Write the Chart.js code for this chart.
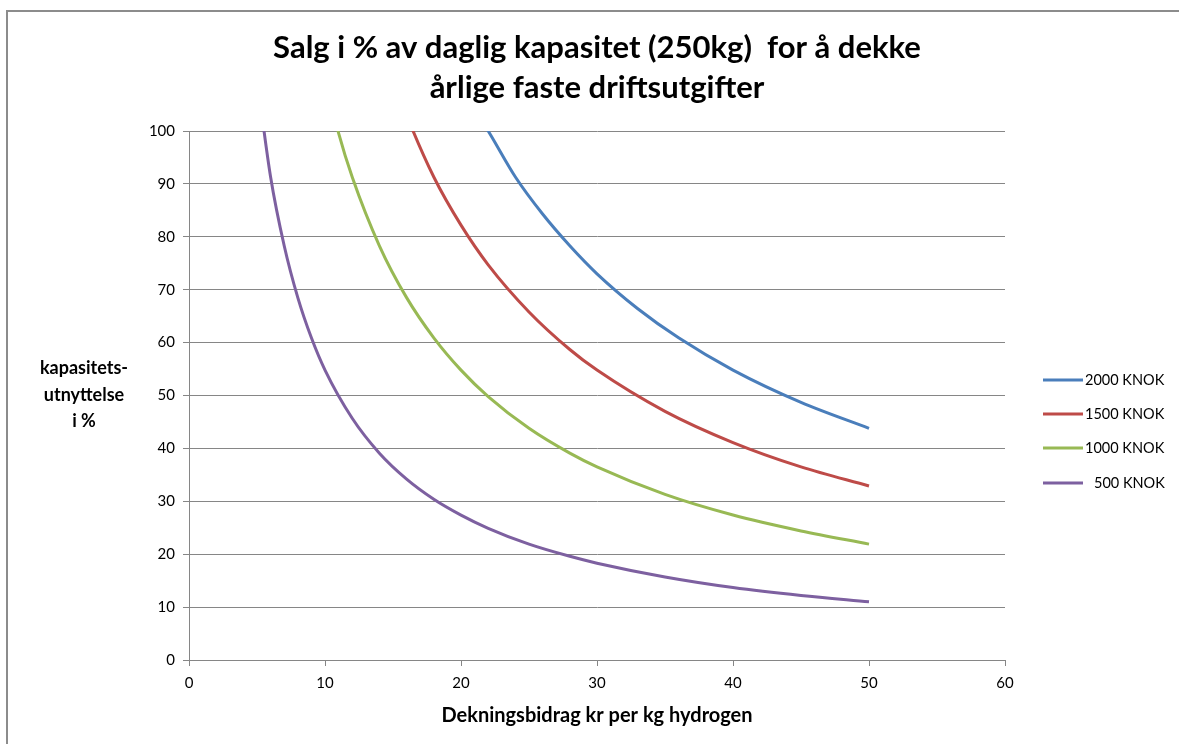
<!DOCTYPE html>
<html><head><meta charset="utf-8">
<script src="https://cdn.jsdelivr.net/npm/chart.js@4"></script>
<style>html,body{margin:0;padding:0;background:#fff}#wrap{width:1179px;height:744px}</style>
</head><body><div id="wrap"><canvas id="c" width="1179" height="744"></canvas></div>
<script>
const seriesNames = ["2000 KNOK", "1500 KNOK", "1000 KNOK", "500 KNOK"];
const x2000 = [21, 22, 24, 26, 28, 30, 33, 36, 40, 45, 50];
const y2000 = [104, 100, 91.3, 84.3, 78.3, 73, 66.4, 60.9, 54.8, 48.7, 43.8];
const x1500 = [15, 16, 18, 20, 22, 25, 28, 30, 35, 40, 45, 50];
const y1500 = [110, 103, 91.3, 82.2, 74.7, 65.8, 58.7, 54.8, 47, 41.1, 36.5, 32.9];
const x1000 = [10, 11, 12, 14, 16, 18, 20, 22, 25, 28, 30, 35, 40, 45, 50];
const y1000 = [110, 99.6, 91.3, 78.3, 68.5, 60.9, 54.8, 49.8, 43.8, 39.1, 36.5, 31.3, 27.4, 24.4, 21.9];
const x500 = [5, 6, 7, 8, 9, 10, 12, 14, 16, 18, 20, 22, 25, 28, 30, 35, 40, 45, 50];
const y500 = [110, 91.3, 78.3, 68.5, 60.9, 54.8, 45.7, 39.1, 34.2, 30.4, 27.4, 24.9, 21.9, 19.6, 18.3, 15.7, 13.7, 12.2, 11];
const colors = ["#4A7EBB", "#BE4B48", "#98B954", "#7D60A0"];
const xTicks = [0, 10, 20, 30, 40, 50, 60];
const yTicks = [0, 10, 20, 30, 40, 50, 60, 70, 80, 90, 100];
const titleLines = ['Salg i % av daglig kapasitet (250kg)  for å dekke', 'årlige faste driftsutgifter'];
const yTitleLines = ['kapasitets-', 'utnyttelse', 'i %'];
const xTitle = 'Dekningsbidrag kr per kg hydrogen';

const xs = [x2000, x1500, x1000, x500];
const ys = [y2000, y1500, y1000, y500];
const datasets = seriesNames.map((n, i) => ({
  label: n,
  data: xs[i].map((x, j) => ({x: x, y: ys[i][j]})),
  borderColor: colors[i], backgroundColor: colors[i],
  borderWidth: 3, pointRadius: 0, showLine: true,
  cubicInterpolationMode: 'monotone'
}));

const FONT = "'Lato', 'Open Sans', sans-serif";
const L = 189, R = 1005, T = 131, B = 660;

const deco = {
  id: 'deco',
  beforeDraw(chart) {
    const ctx = chart.ctx;
    ctx.save();
    ctx.fillStyle = '#fff';
    ctx.fillRect(0, 0, chart.width, chart.height);
    ctx.strokeStyle = '#8c8c8c';
    ctx.lineWidth = 2;
    ctx.beginPath();
    ctx.moveTo(7, 744); ctx.lineTo(7, 11); ctx.lineTo(1179, 11);
    ctx.stroke();
    ctx.restore();
  },
  afterDraw(chart) {
    const ctx = chart.ctx;
    const ca = chart.chartArea;
    const cx = (ca.left + ca.right) / 2;
    ctx.save();
    ctx.fillStyle = '#000';
    ctx.textAlign = 'center'; ctx.textBaseline = 'middle';
    ctx.font = "bold 31px " + FONT;
    ctx.fillText(titleLines[0], cx, 48);
    ctx.fillText(titleLines[1], cx, 88);
    ctx.font = "bold 18px " + FONT;
    ctx.fillText(yTitleLines[0], 84, 368);
    ctx.fillText(yTitleLines[1], 84, 395);
    ctx.fillText(yTitleLines[2], 84, 421);
    ctx.font = "bold 20px " + FONT;
    ctx.fillText(xTitle, cx, 716);
    ctx.font = "14.5px " + FONT;
    ctx.textAlign = 'left';
    const rows = [380, 414, 448, 483];
    rows.forEach((y, i) => {
      ctx.strokeStyle = colors[i]; ctx.lineWidth = 3;
      ctx.beginPath(); ctx.moveTo(1043, y); ctx.lineTo(1083, y); ctx.stroke();
      ctx.fillStyle = '#000';
      ctx.fillText(seriesNames[i], i === 3 ? 1094 : 1085, y);
    });
    ctx.restore();
  }
};

new Chart(document.getElementById('c'), {
  type: 'scatter',
  data: { datasets },
  plugins: [deco],
  options: {
    responsive: false, animation: false,
    layout: { padding: { left: 0, right: 1179 - R, top: T, bottom: 0 } },
    plugins: {
      legend: { display: false },
      tooltip: { enabled: false },
      title: { display: false }
    },
    scales: {
      x: {
        type: 'linear', min: 0, max: 60,
        afterBuildTicks(s) { s.ticks = xTicks.map(v => ({value: v})); },
        ticks: { font: { family: FONT, size: 15 }, color: '#000', padding: 8 },
        grid: { display: true, drawOnChartArea: false, tickLength: 6, color: '#868686' },
        border: { display: true, color: '#868686', width: 1 },
        afterFit(s) { s.height = 744 - B; }
      },
      y: {
        type: 'linear', min: 0, max: 100,
        afterBuildTicks(s) { s.ticks = yTicks.map(v => ({value: v})); },
        ticks: { font: { family: FONT, size: 15 }, color: '#000', padding: 8 },
        grid: { color: '#868686', lineWidth: 1, tickLength: 6 },
        border: { display: true, color: '#868686', width: 1 },
        afterFit(s) { s.width = L; }
      }
    }
  }
});
</script></body></html>
